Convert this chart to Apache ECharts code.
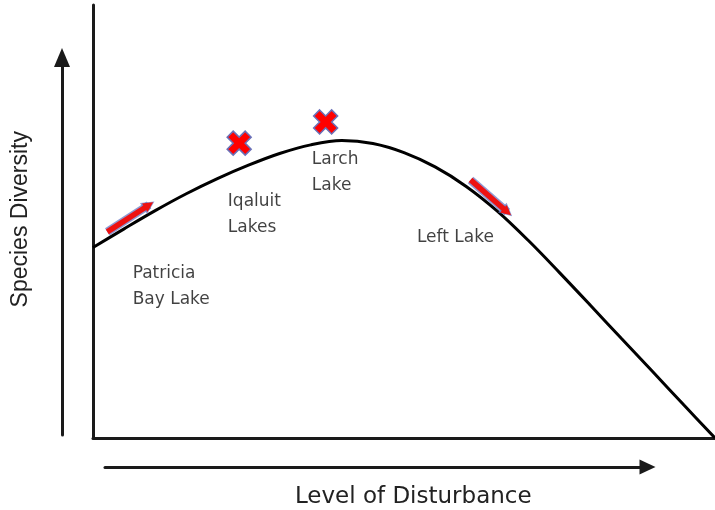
<!DOCTYPE html>
<html>
<head>
<meta charset="utf-8">
<script src="https://cdn.jsdelivr.net/npm/echarts@6/dist/echarts.min.js"></script>
<style>
html,body{margin:0;padding:0;background:#fff;}
#chart{width:715px;height:510px;}
</style>
</head>
<body>
<div id="chart"></div>
<script>
// Level of disturbance (x) vs species diversity (y), conceptual 0-100 scales
const disturbance = [0, 5, 10, 15, 20, 25, 30, 35, 40, 45, 50, 55, 60, 65, 70, 75, 80, 85, 90, 95, 100];
const diversity   = [44, 48.3, 52.5, 56.4, 59.9, 63.0, 65.7, 67.7, 68.7, 68.0, 65.9, 62.6, 58.1, 52.4, 45.6, 38.2, 30.6, 22.9, 15.3, 7.6, 0];

const lakeNames = ['Patricia\nBay Lake', 'Iqaluit\nLakes', 'Larch\nLake', 'Left Lake'];
const lakeX = [6.3, 21.6, 35.1, 52.0];
const lakeY = [35.0, 51.7, 61.3, 46.2];

const markerX = [23.5, 37.4];
const markerY = [68.1, 73.0];

// trend arrows: [x0, y0, x1, y1]
const trendArrows = [
  [2.3, 47.6, 9.0, 53.8],
  [60.7, 59.6, 66.6, 52.2]
];

const curve = disturbance.map((x, i) => [x, diversity[i]]);
const labels = lakeNames.map((n, i) => ({ name: n, value: [lakeX[i], lakeY[i]] }));
const markers = markerX.map((x, i) => [x, markerY[i]]);
const arrowData = trendArrows.map(a => ({ coords: [[a[0], a[1]], [a[2], a[3]]] }));

const axisStroke = { color: '#1a1a1a', width: 3 };
const hidden = { axisTick: { show: false }, axisLabel: { show: false }, splitLine: { show: false } };

const chart = echarts.init(document.getElementById('chart'), null, { renderer: 'canvas' });
chart.setOption({
  animation: false,
  backgroundColor: '#ffffff',
  grid: [
    { left: 93, right: 0, top: 5, bottom: 72 },
    { left: 62, width: 10, top: 57.5, bottom: 75 },
    { left: 105, right: 67.5, height: 10, bottom: 43 }
  ],
  xAxis: [
    Object.assign({ type: 'value', gridIndex: 0, min: 0, max: 100,
      axisLine: { show: true, onZero: false, lineStyle: axisStroke } }, hidden),
    Object.assign({ type: 'value', gridIndex: 1, min: 0, max: 1, show: false }, hidden),
    Object.assign({ type: 'value', gridIndex: 2, min: 0, max: 1, position: 'bottom',
      axisLine: { show: true, onZero: false, lineStyle: axisStroke,
        symbol: ['none', 'triangle'], symbolSize: [15, 16] },
      name: 'Level of Disturbance', nameLocation: 'middle', nameGap: 19,
      nameTextStyle: { fontFamily: 'DejaVu Sans', fontSize: 23, color: '#222', padding: [0, 0, 0, 74] } }, hidden)
  ],
  yAxis: [
    Object.assign({ type: 'value', gridIndex: 0, min: 0, max: 100,
      axisLine: { show: true, onZero: false, lineStyle: axisStroke } }, hidden),
    Object.assign({ type: 'value', gridIndex: 1, min: 0, max: 1, position: 'left',
      axisLine: { show: true, onZero: false, lineStyle: axisStroke,
        symbol: ['none', 'triangle'], symbolSize: [16, 19] },
      name: 'Species Diversity', nameLocation: 'middle', nameGap: 30,
      nameTextStyle: { fontFamily: 'Liberation Sans', fontSize: 23, color: '#222', padding: [0, 0, 0, 54] } }, hidden),
    Object.assign({ type: 'value', gridIndex: 2, min: 0, max: 1, show: false }, hidden)
  ],
  series: [
    {
      type: 'line', xAxisIndex: 0, yAxisIndex: 0, data: curve, smooth: 0.35,
      showSymbol: false, lineStyle: { color: '#000', width: 3 }, silent: true, z: 3
    },
    {
      type: 'lines', coordinateSystem: 'cartesian2d', xAxisIndex: 0, yAxisIndex: 0,
      data: arrowData, symbol: ['none', 'triangle'], symbolSize: [13, 13],
      lineStyle: { color: '#6a78c4', width: 8.5, opacity: 0.75, curveness: 0 }, z: 4
    },
    {
      type: 'lines', coordinateSystem: 'cartesian2d', xAxisIndex: 0, yAxisIndex: 0,
      data: arrowData, symbol: ['none', 'triangle'], symbolSize: [10, 10],
      lineStyle: { color: '#ee1111', width: 5.5, opacity: 1, curveness: 0 }, z: 5
    },
    {
      type: 'scatter', xAxisIndex: 0, yAxisIndex: 0, data: markers,
      symbol: 'path://M2.5,0 L5,2.5 L7.5,0 L10,2.5 L7.5,5 L10,7.5 L7.5,10 L5,7.5 L2.5,10 L0,7.5 L2.5,5 L0,2.5 Z',
      symbolSize: 24,
      itemStyle: { color: '#ff0000', borderColor: '#6a70b8', borderWidth: 1.5, opacity: 1 }, z: 6
    },
    {
      type: 'scatter', xAxisIndex: 0, yAxisIndex: 0, data: labels,
      symbolSize: 1, itemStyle: { color: 'rgba(0,0,0,0)' },
      label: {
        show: true, position: 'right', distance: 0, formatter: p => p.name,
        fontFamily: 'DejaVu Sans', fontSize: 17, color: '#111', lineHeight: 26, align: 'left'
      }, z: 7
    }
  ]
});
</script>
</body>
</html>
